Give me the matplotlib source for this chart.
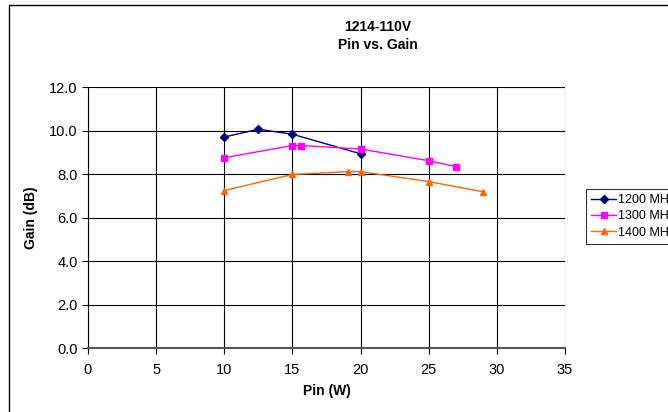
import matplotlib
matplotlib.use("Agg")
import matplotlib.pyplot as plt
from matplotlib.patches import Rectangle

plt.rcParams["font.family"] = ["Liberation Sans", "DejaVu Sans"]

pin_1200 = [10, 12.5, 15, 20]
gain_1200 = [9.70, 10.06, 9.83, 8.93]

pin_1300 = [10, 15, 15.6, 20, 25, 27]
gain_1300 = [8.75, 9.31, 9.31, 9.15, 8.61, 8.34]

pin_1400 = [10, 15, 19.1, 20, 25, 29]
gain_1400 = [7.24, 7.98, 8.11, 8.11, 7.65, 7.18]

fig = plt.figure(figsize=(6.68, 4.12), dpi=100)
ax = fig.add_axes([0.1317, 0.1553, 0.714, 0.6335])

ax.plot(pin_1200, gain_1200, color="#000080", marker="D", markersize=4, lw=1, label="1200 MHz")
ax.plot(pin_1300, gain_1300, color="#FF00FF", marker="s", markersize=4.5, lw=1, label="1300 MHz")
ax.plot(pin_1400, gain_1400, color="#FF6600", marker="^", markersize=5, lw=1, label="1400 MHz")

ax.set_xlim(0, 35)
ax.set_ylim(0, 12)
ax.set_xticks(range(0, 36, 5))
ax.set_yticks(range(0, 13, 2))
ax.set_yticklabels([f"{v:.1f}" for v in range(0, 13, 2)])
ax.grid(True, color="black", lw=0.8)
ax.set_axisbelow(True)
ax.tick_params(direction="out", length=4, labelsize=10.5, width=0.8)
ax.tick_params(axis="x", pad=7)
for side in ["top", "right"]:
    ax.spines[side].set_visible(False)
ax.spines["left"].set_linewidth(0.8)
ax.spines["bottom"].set_color("#555555")
ax.spines["bottom"].set_linewidth(1.5)

ax.set_xlabel("Pin (W)", fontsize=10, fontweight="bold", labelpad=5)
ax.set_ylabel("Gain (dB)", fontsize=10, fontweight="bold", labelpad=8)

fig.text(0.566, 0.912, "1214-110V\nPin vs. Gain", ha="center", va="center",
         fontsize=10, fontweight="bold", linespacing=1.35)

fig.patches.append(Rectangle((9 / 668, -0.01), 1.0, 1 - 5 / 412 + 0.01, transform=fig.transFigure,
                             fill=False, edgecolor="black", lw=1))

leg = fig.legend(loc="upper left", bbox_to_anchor=(586 / 668, 1 - 189 / 412), fontsize=9,
                 frameon=True, fancybox=False, edgecolor="black", borderpad=0.4,
                 borderaxespad=0, handlelength=2.0, handletextpad=0.2, labelspacing=0.35)
leg.get_frame().set_linewidth(0.8)

fig.savefig("out.png", dpi=100)
